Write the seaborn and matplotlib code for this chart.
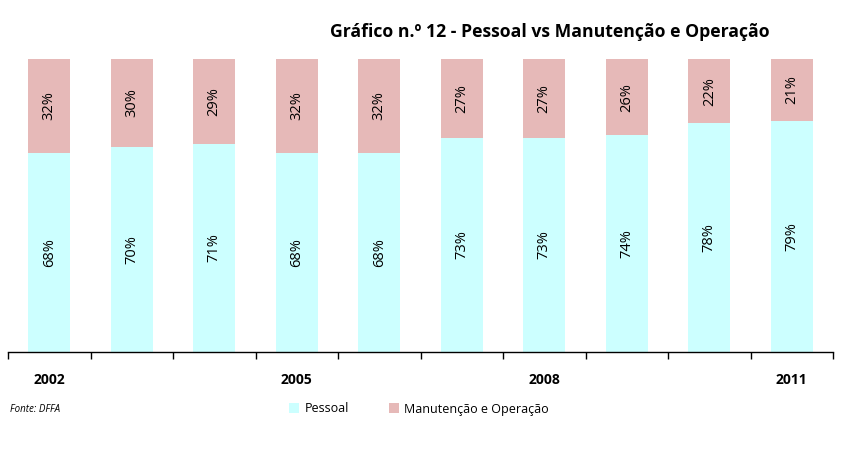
import matplotlib
matplotlib.use("Agg")
import matplotlib.pyplot as plt
import seaborn as sns
import pandas as pd
from matplotlib.patches import Patch

years = ["2002", "2003", "2004", "2005", "2006", "2007", "2008", "2009", "2010", "2011"]
tick_labels = ["2002", "", "", "2005", "", "", "2008", "", "", "2011"]
pessoal = [68, 70, 71, 68, 68, 73, 73, 74, 78, 79]
manutencao = [32, 30, 29, 32, 32, 27, 27, 26, 22, 21]

sns.set_theme(style="white")
plt.rcParams['font.family'] = ['Open Sans', 'DejaVu Sans']
plt.rcParams['text.color'] = '#000000'
plt.rcParams['xtick.color'] = '#000000'
plt.rcParams['axes.labelcolor'] = '#000000'

c_pes = "#CCFFFF"
c_man = "#E6B9B8"

df = pd.DataFrame({"ano": years, "Pessoal": pessoal, "Manut": manutencao})
df["total"] = df["Pessoal"] + df["Manut"]
df["p_share"] = df["Pessoal"] / df["total"] * 100

fig = plt.figure(figsize=(8.53, 4.5), dpi=100)
ax = fig.add_axes([8/853, 98/450, 825/853, 293/450])

sns.barplot(data=df, x="ano", y=[100]*len(years), color=c_man, width=0.51, ax=ax,
            saturation=1, linewidth=0)
sns.barplot(data=df, x="ano", y="p_share", color=c_pes, width=0.51, ax=ax,
            saturation=1, linewidth=0)

for i, (p, m) in enumerate(zip(pessoal, manutencao)):
    ps = df["p_share"][i]
    ax.text(i, ps / 2, f"{p}%", rotation=90, ha="center", va="center", fontsize=10.5, color="#000000")
    ax.text(i, ps + (100 - ps) / 2, f"{m}%", rotation=90, ha="center", va="center", fontsize=10.5, color="#000000")

ax.set_xlim(-0.5, len(years) - 0.5)
ax.set_ylim(0, 100)
ax.set_xlabel("")
ax.set_ylabel("")
ax.set_yticks([])
for s in ["top", "right", "left"]:
    ax.spines[s].set_visible(False)
ax.spines["bottom"].set_color("#000000")
ax.spines["bottom"].set_linewidth(1)

ax.set_xticks([i - 0.5 for i in range(len(years) + 1)])
ax.set_xticklabels([])
ax.tick_params(axis="x", which="major", direction="out", length=5, width=1, color="#000000", bottom=True)
ax.set_xticks(range(len(years)), minor=True)
ax.set_xticklabels(tick_labels, minor=True, fontsize=10, fontweight="bold", color="#000000")
ax.tick_params(axis="x", which="minor", length=0, pad=15)

fig.text(550/853, 1 - 32/450, "Gráfico n.º 12 - Pessoal vs Manutenção e Operação",
         ha="center", va="center", fontsize=12.7, fontweight="bold", color="#000000")
fig.text(10/853, 1 - 410/450, "Fonte: DFFA", ha="left", va="center", fontsize=7, style="italic",
         color="#000000")

handles = [Patch(facecolor=c_pes, edgecolor="none", label="Pessoal"),
           Patch(facecolor=c_man, edgecolor="none", label="Manutenção e Operação")]
fig.legend(handles=handles, loc="center", bbox_to_anchor=(419/853, 1 - 409/450), ncol=2,
           frameon=False, fontsize=9, handlelength=0.8, handleheight=0.8,
           columnspacing=3.2, handletextpad=0.4, labelcolor="#000000")

fig.savefig("out.png", dpi=100)
